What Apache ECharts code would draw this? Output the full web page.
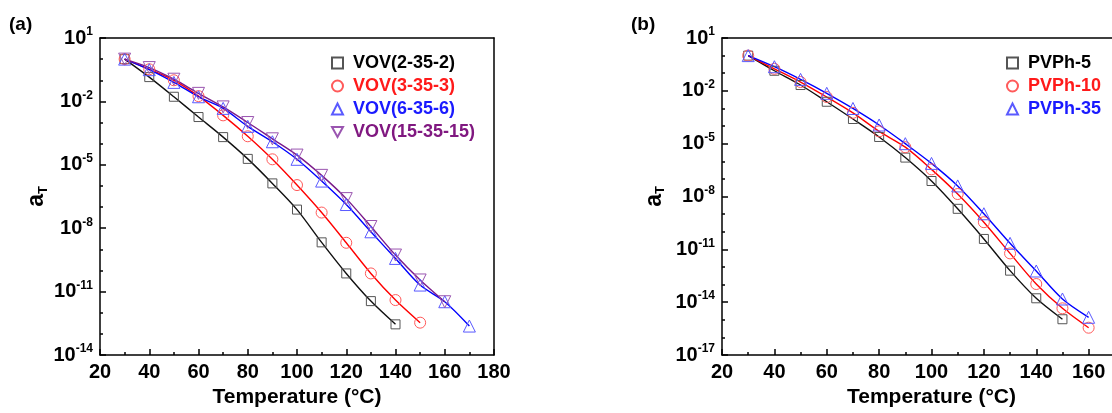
<!DOCTYPE html>
<html>
<head>
<meta charset="utf-8">
<script src="https://cdn.jsdelivr.net/npm/echarts@6/dist/echarts.min.js"></script>
<style>
  html, body { margin: 0; padding: 0; background: #fff; }
  #chart { width: 1112px; height: 413px; }
</style>
</head>
<body>
<div id="chart"></div>
<script>
const font = '"Liberation Sans", Arial, sans-serif'

// temperatures (°C), shared by every curve
const temps = [30, 40, 50, 60, 70, 80, 90, 100, 110, 120, 130, 140, 150, 160, 170]

// panel (a): log10(aT)
const vov2 = [0, -0.85, -1.78, -2.74, -3.69, -4.72, -5.88, -7.12, -8.67, -10.14, -11.45, -12.55]
const vov3 = [0, -0.48, -1.0, -1.75, -2.66, -3.65, -4.74, -5.96, -7.26, -8.69, -10.14, -11.4, -12.47]
const vov6 = [0, -0.5, -1.1, -1.78, -2.33, -3.18, -3.91, -4.74, -5.77, -6.88, -8.17, -9.43, -10.69, -11.48, -12.63]
const vov15 = [0, -0.4, -0.95, -1.62, -2.26, -3.0, -3.77, -4.54, -5.5, -6.6, -7.92, -9.27, -10.45, -11.48]

// panel (b): log10(aT)
const pvph5 = [0, -0.86, -1.67, -2.62, -3.6, -4.62, -5.79, -7.12, -8.7, -10.41, -12.21, -13.78, -14.97]
const pvph10 = [0, -0.75, -1.5, -2.35, -3.25, -4.3, -5.2, -6.46, -7.86, -9.46, -11.23, -12.97, -14.35, -15.45]
const pvph35 = [0, -0.63, -1.35, -2.14, -3.0, -3.94, -5.0, -6.12, -7.4, -8.98, -10.66, -12.23, -13.82, -14.86]

const xTicks = [20, 40, 60, 80, 100, 120, 140, 160, 180]

const invTri = 'path://M0,0L10,0L5,9Z'

function curve(name, values, idx, lineColor, markColor, symbol, size) {
  return {
    name: name,
    type: 'line',
    xAxisIndex: idx,
    yAxisIndex: idx,
    data: values.map((v, i) => [temps[i], v]),
    smooth: 0.3,
    symbol: symbol,
    symbolSize: size,
    lineStyle: { color: lineColor, width: 1.4 },
    itemStyle: { color: 'transparent', borderColor: markColor, borderWidth: 1 },
    emphasis: { disabled: true },
    animation: false
  }
}

const lineBlack = { color: '#000', width: 1.5 }

function xAxis(idx) {
  return {
    type: 'value',
    gridIndex: idx,
    min: xTicks[0],
    max: xTicks[xTicks.length - 1],
    interval: 20,
    name: 'Temperature (°C)',
    nameLocation: 'middle',
    nameGap: 31,
    nameTextStyle: { fontSize: 21, fontWeight: 'bold', color: '#000', fontFamily: font },
    axisLine: { onZero: false, lineStyle: lineBlack },
    axisTick: { inside: true, length: 6, lineStyle: lineBlack },
    minorTick: { show: true, splitNumber: 2, length: 3, lineStyle: lineBlack },
    splitLine: { show: false },
    axisLabel: { fontSize: 20, fontWeight: 'bold', color: '#000', fontFamily: font, margin: 7 }
  }
}

function yAxis(idx, min, gap) {
  return {
    type: 'value',
    gridIndex: idx,
    min: min,
    max: 1,
    interval: 3,
    name: '{a|a}{t|T}',
    nameLocation: 'middle',
    nameRotate: 90,
    nameGap: gap,
    nameTextStyle: {
      rich: {
        a: { fontSize: 23, fontWeight: 'bold', color: '#000', fontFamily: font },
        t: { fontSize: 13, fontWeight: 'bold', color: '#000', fontFamily: font, padding: [12, 0, 0, 0] }
      }
    },
    axisLine: { show: true, onZero: false, lineStyle: lineBlack },
    axisTick: { inside: true, length: 6, lineStyle: lineBlack },
    minorTick: { show: true, splitNumber: 3, length: 3, lineStyle: lineBlack },
    splitLine: { show: false },
    axisLabel: {
      margin: 7,
      formatter: v => '{b|10}{s|' + v + '}',
      rich: {
        b: { fontSize: 20, fontWeight: 'bold', color: '#000', fontFamily: font },
        s: { fontSize: 12, fontWeight: 'bold', color: '#000', fontFamily: font, padding: [0, 0, 12, 0] }
      }
    }
  }
}

// plain frame line on the opposite side of a panel
function frame(kind, idx, min, max) {
  return {
    type: 'value',
    gridIndex: idx,
    position: kind === 'x' ? 'top' : 'right',
    min: min,
    max: max,
    axisLine: { show: true, onZero: false, lineStyle: lineBlack },
    axisTick: { show: false },
    axisLabel: { show: false },
    splitLine: { show: false }
  }
}

function legend(left, top, items) {
  return {
    orient: 'vertical',
    left: left,
    top: top,
    itemGap: 5,
    itemWidth: 11,
    itemHeight: 11,
    selectedMode: false,
    textStyle: { fontSize: 18, fontWeight: 'bold', fontFamily: font, padding: [0, 0, 0, 5] },
    data: items.map(d => ({ name: d[0], icon: d[1], textStyle: { color: d[2] } }))
  }
}

const chart = echarts.init(document.getElementById('chart'))
chart.setOption({
  backgroundColor: '#fff',
  animation: false,
  title: [
    { text: '(a)', left: 9, top: 15, padding: 0, textStyle: { fontSize: 19, fontWeight: 'bold', color: '#000', fontFamily: font } },
    { text: '(b)', left: 631, top: 15, padding: 0, textStyle: { fontSize: 19, fontWeight: 'bold', color: '#000', fontFamily: font } }
  ],
  grid: [
    { left: 100, top: 38, width: 394, height: 317, outerBoundsMode: 'none', containLabel: false },
    { left: 722, top: 38, width: 419, height: 317, outerBoundsMode: 'none', containLabel: false }
  ],
  xAxis: [xAxis(0), xAxis(1), frame('x', 0, 20, 180), frame('x', 1, 20, 180)],
  yAxis: [yAxis(0, -14, 41), yAxis(1, -17, 55), frame('y', 0, -14, 1), frame('y', 1, -17, 1)],
  legend: [
    legend(326, 49, [
      ['VOV(2-35-2)', 'rect', '#000'],
      ['VOV(3-35-3)', 'circle', '#ff1a1a'],
      ['VOV(6-35-6)', 'triangle', '#1a1aff'],
      ['VOV(15-35-15)', invTri, '#801880']
    ]),
    legend(1001, 49, [
      ['PVPh-5', 'rect', '#000'],
      ['PVPh-10', 'circle', '#ff1a1a'],
      ['PVPh-35', 'triangle', '#1a1aff']
    ])
  ],
  series: [
    curve('VOV(2-35-2)', vov2, 0, '#111', '#555', 'rect', 9),
    curve('VOV(3-35-3)', vov3, 0, '#ff0000', '#ff5a5a', 'circle', 11),
    curve('VOV(6-35-6)', vov6, 0, '#0000ff', '#5a5aff', 'triangle', 12),
    curve('VOV(15-35-15)', vov15, 0, '#7a1a8a', '#9a55b0', invTri, 12),
    curve('PVPh-5', pvph5, 1, '#111', '#555', 'rect', 9),
    curve('PVPh-10', pvph10, 1, '#ff0000', '#ff5a5a', 'circle', 11),
    curve('PVPh-35', pvph35, 1, '#0000ff', '#5a5aff', 'triangle', 12)
  ]
})
</script>
</body>
</html>
